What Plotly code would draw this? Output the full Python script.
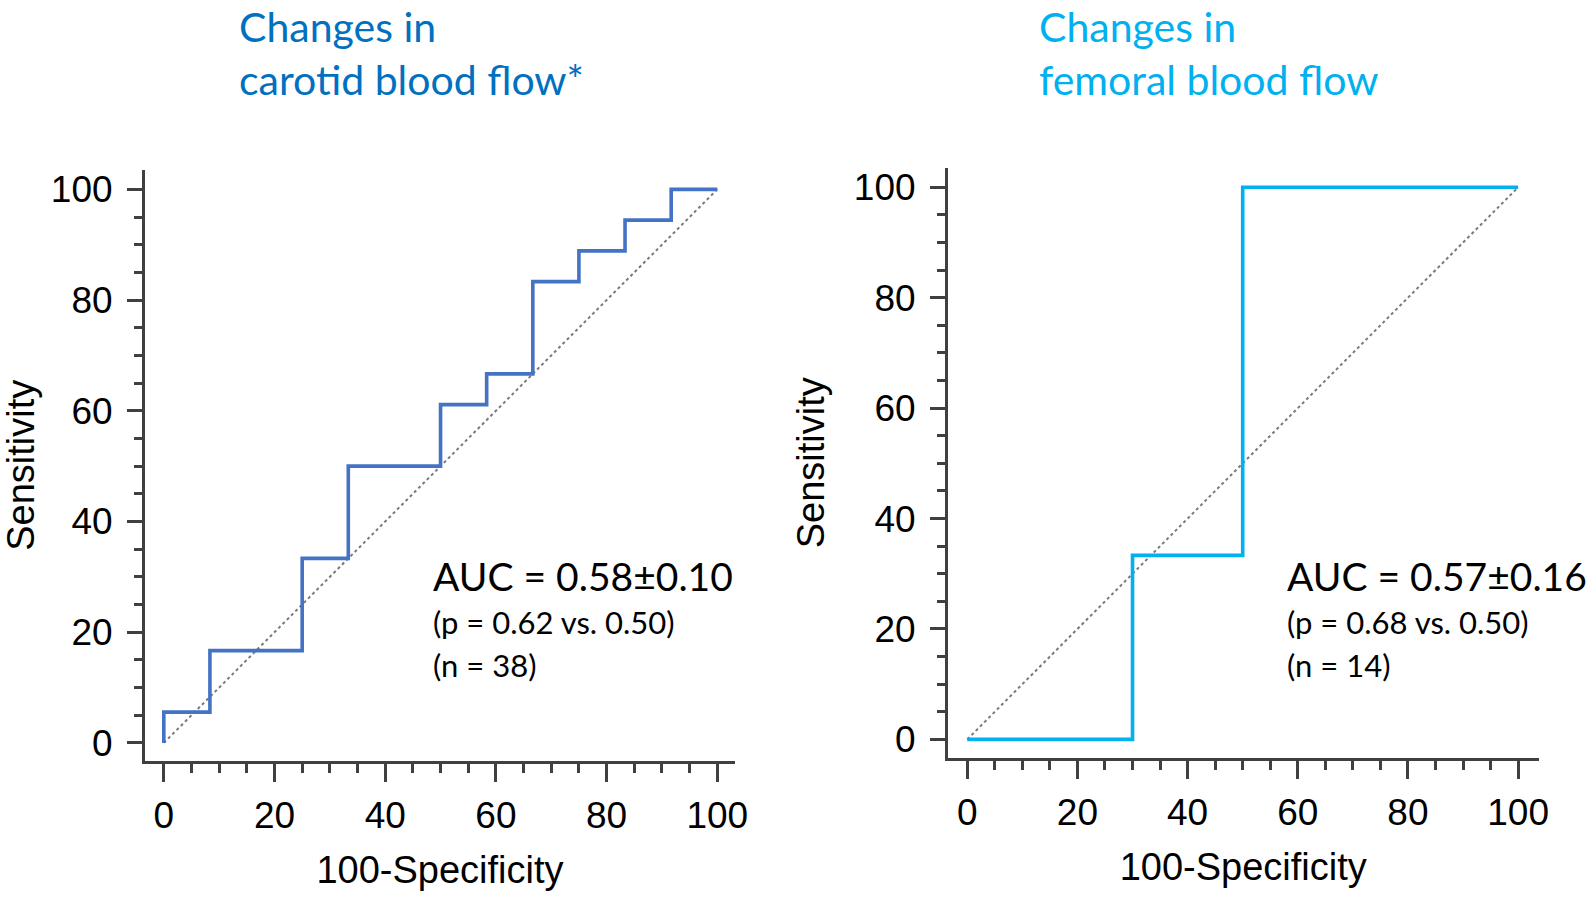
import plotly.graph_objects as go

W, H = 1586, 899

# ---- data ----
carotid_fpr = [0, 8.33, 25, 33.33, 50, 58.33, 66.67, 75, 83.33, 91.67, 100]
carotid_tpr = [0, 5.56, 16.67, 33.33, 50, 61.11, 66.67, 83.33, 88.89, 94.44, 100]
femoral_fpr = [0, 30, 50, 100]
femoral_tpr = [0, 33.33, 100, 100]
diag = [0, 100]
tick_vals = [0, 20, 40, 60, 80, 100]
tick_text = ["0", "20", "40", "60", "80", "100"]

titles = ["Changes in<br>carotid blood flow*", "Changes in<br>femoral blood flow"]
auc_text = ["AUC = 0.58±0.10", "AUC = 0.57±0.16"]
p_text = ["(p = 0.62 vs. 0.50)", "(p = 0.68 vs. 0.50)"]
n_text = ["(n = 38)", "(n = 14)"]

LEFT_COLOR = "#4472C4"
RIGHT_COLOR = "#00B0F0"
TITLE_COLORS = ["#0070C0", "#00B0F0"]
AX = "#404040"

def px(x):
    return x / W

def py(y):
    return 1 - y / H

fig = go.Figure()

for xa, ya in (("x", "y"), ("x2", "y2")):
    fig.add_trace(go.Scatter(x=diag, y=diag, mode="lines", xaxis=xa, yaxis=ya,
                             line=dict(color="#7a7a7a", width=2, dash="dot"),
                             showlegend=False, hoverinfo="skip"))

fig.add_trace(go.Scatter(x=carotid_fpr, y=carotid_tpr, mode="lines", line_shape="vh",
                         line=dict(color=LEFT_COLOR, width=3.6), xaxis="x", yaxis="y",
                         showlegend=False))
fig.add_trace(go.Scatter(x=femoral_fpr, y=femoral_tpr, mode="lines", line_shape="hv",
                         line=dict(color=RIGHT_COLOR, width=3.6), xaxis="x2", yaxis="y2",
                         showlegend=False))

tick_font = dict(family="Liberation Sans, Arial, sans-serif", size=37, color="black")
title_font = dict(family="Liberation Sans, Arial, sans-serif", size=38, color="black")

def xaxis(domain, rng, anchor):
    return dict(domain=domain, range=rng, anchor=anchor, showgrid=False, zeroline=False,
                automargin=False,
                showline=True, linecolor=AX, linewidth=3,
                ticks="outside", ticklen=18, tickwidth=3, tickcolor=AX,
                tickvals=tick_vals, ticktext=tick_text, tickfont=tick_font,
                ticklabelstandoff=2,
                minor=dict(ticks="outside", ticklen=9, tickwidth=2.5, tickcolor=AX, dtick=5,
                           tick0=0, showgrid=False),
                title=dict(text="100-Specificity", font=title_font, standoff=22),
                fixedrange=True)

def yaxis(domain, rng, anchor):
    return dict(domain=domain, range=rng, anchor=anchor, showgrid=False, zeroline=False,
                automargin=False,
                showline=True, linecolor=AX, linewidth=3,
                ticks="outside", ticklen=15, tickwidth=3, tickcolor=AX,
                tickvals=tick_vals, ticktext=tick_text, tickfont=tick_font,
                ticklabelstandoff=7,
                minor=dict(ticks="outside", ticklen=8, tickwidth=2.5, tickcolor=AX, dtick=5,
                           tick0=0, showgrid=False),
                title=dict(text="Sensitivity", font=title_font, standoff=18),
                fixedrange=True)

fig.update_layout(
    width=W, height=H,
    margin=dict(l=0, r=0, t=0, b=0, autoexpand=False),
    paper_bgcolor="white", plot_bgcolor="white",
    xaxis=xaxis([px(145), px(735)], [-3.4, 103.2], "y"),
    yaxis=yaxis([py(760.6), py(170)], [-3.2, 103.5], "x"),
    xaxis2=xaxis([px(948), px(1538.5)], [-3.5, 103.7], "y2"),
    yaxis2=yaxis([py(757.6), py(168)], [-3.3, 103.5], "x2"),
)

ann_font = "Lato, Carlito, Calibri, sans-serif"
title_x = [237, 1037]
text_x = [431, 1285]
for i in range(2):
    fig.add_annotation(text=titles[i], x=px(title_x[i]), y=1, xref="paper", yref="paper",
                       xanchor="left", yanchor="top", align="left", showarrow=False,
                       font=dict(family=ann_font, size=41, color=TITLE_COLORS[i]))
    fig.add_annotation(text=auc_text[i], x=px(text_x[i]), y=py(576), xref="paper", yref="paper",
                       xanchor="left", yanchor="middle", showarrow=False,
                       font=dict(family=ann_font, size=39, color="black"))
    fig.add_annotation(text=p_text[i], x=px(text_x[i]), y=py(622), xref="paper", yref="paper",
                       xanchor="left", yanchor="middle", showarrow=False,
                       font=dict(family=ann_font, size=31, color="black"))
    fig.add_annotation(text=n_text[i], x=px(text_x[i]), y=py(664.5), xref="paper", yref="paper",
                       xanchor="left", yanchor="middle", showarrow=False,
                       font=dict(family=ann_font, size=31, color="black"))

fig.write_html("out.html", config={"displayModeBar": False},
               post_script="document.body.style.margin='0';document.body.style.padding='0';")
